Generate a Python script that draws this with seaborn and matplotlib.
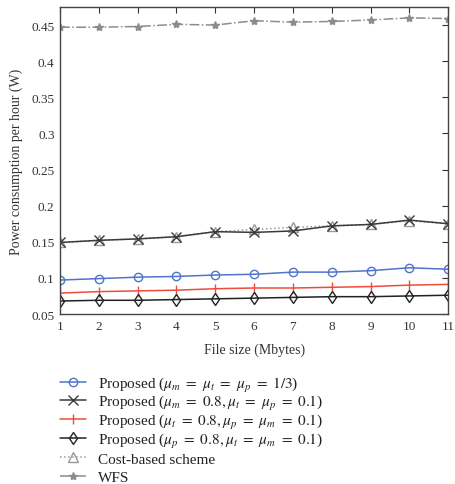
import numpy as np
import pandas as pd
import seaborn as sns
import matplotlib.pyplot as plt

# file size (Mbytes)
file_size = [1, 2, 3, 4, 5, 6, 7, 8, 9, 10, 11]

# power consumption per hour (W)
prop_equal = [0.097, 0.099, 0.101, 0.102, 0.104, 0.105, 0.108, 0.108, 0.110, 0.114, 0.112]
prop_m08 = [0.149, 0.152, 0.154, 0.157, 0.164, 0.163, 0.165, 0.172, 0.174, 0.180, 0.175]
prop_t08 = [0.079, 0.081, 0.082, 0.083, 0.085, 0.086, 0.086, 0.087, 0.088, 0.090, 0.091]
prop_p08 = [0.068, 0.069, 0.069, 0.070, 0.071, 0.072, 0.073, 0.074, 0.074, 0.075, 0.076]
cost_based = [0.149, 0.152, 0.154, 0.157, 0.164, 0.167, 0.170, 0.172, 0.174, 0.179, 0.175]
wfs = [0.447, 0.447, 0.448, 0.451, 0.450, 0.456, 0.454, 0.455, 0.457, 0.460, 0.459]

labels = [
    r'Proposed ($\mu_m\ =\ \mu_t\ =\ \mu_p\ =\ 1/3$)',
    r'Proposed ($\mu_m\ =\ 0.8, \mu_t\ =\ \mu_p\ =\ 0.1$)',
    r'Proposed ($\mu_t\ =\ 0.8, \mu_p\ =\ \mu_m\ =\ 0.1$)',
    r'Proposed ($\mu_p\ =\ 0.8, \mu_t\ =\ \mu_m\ =\ 0.1$)',
    'Cost-based scheme',
    'WFS',
]

sns.set_style('white')
plt.rcParams['font.family'] = ['Liberation Serif', 'DejaVu Serif']
plt.rcParams['mathtext.fontset'] = 'stix'

W, H = 455, 485
fig = plt.figure(figsize=(W / 100, H / 100), dpi=100)
ax = fig.add_axes([0.132, 0.3505, 0.853, 0.633])

# (values, color, marker, linestyle, markerfacecolor, markersize)
series = [
    (prop_equal, '#4f74c9', 'o', '-', 'none', 6),
    (prop_m08, '#3a3a3a', 'x', '-', '#3a3a3a', 7),
    (prop_t08, '#f04a3c', '|', '-', '#f04a3c', 7),
    (prop_p08, '#222222', 'd', '-', 'none', 6),
    (cost_based, '#9a9a9a', '^', ':', 'none', 6.5),
    (wfs, '#8c8c8c', '*', '-.', '#8c8c8c', 6),
]

# draw cost-based first so crosses sit on top
order = [4, 5, 0, 1, 2, 3]
handles = [None] * len(series)
for i in order:
    vals, col, mk, ls, mfc, ms = series[i]
    df = pd.DataFrame({'size': file_size, 'power': vals})
    sns.lineplot(data=df, x='size', y='power', ax=ax, color=col, marker=mk,
                 linestyle=ls, markersize=ms, markerfacecolor=mfc,
                 markeredgecolor=col, markeredgewidth=1.0, linewidth=1.1,
                 label=labels[i])
    handles[i] = ax.get_lines()[-1]

ax.set_xlim(1, 11)
ax.set_ylim(0.05, 0.475)
ax.set_xticks(file_size)
ax.set_yticks([0.05, 0.1, 0.15, 0.2, 0.25, 0.3, 0.35, 0.4, 0.45])
ax.set_yticklabels(['0.05', '0.1', '0.15', '0.2', '0.25', '0.3', '0.35', '0.4', '0.45'])
ax.tick_params(direction='in', top=True, right=True, length=4, labelsize=9.5,
               colors='#333333', pad=4)
for sp in ax.spines.values():
    sp.set_color('#444444')
    sp.set_linewidth(1.0)

ax.set_xlabel('File size (Mbytes)', fontsize=10, color='#333333', labelpad=8)
ax.set_ylabel('Power consumption per hour (W)', fontsize=10, color='#333333', labelpad=6)

ax.get_legend().remove()
# legend rows built by hand: handle-only legend plus a baseline-aligned label,
# so the mathtext rows and the plain rows are evenly spaced
for k, (h, lab) in enumerate(zip(handles, labels)):
    y_px = 384 + 18.8 * k
    fig.legend([h], [''], loc='center left', bbox_to_anchor=(60 / W, 1 - y_px / H),
               frameon=False, fontsize=11, handlelength=1.7, handletextpad=0,
               borderaxespad=0, borderpad=0)
    fig.text(98 / W, 1 - (y_px + 4.5) / H, lab, fontsize=11, color='#222222',
             va='baseline', ha='left')

fig.savefig('out.png', dpi=100)
